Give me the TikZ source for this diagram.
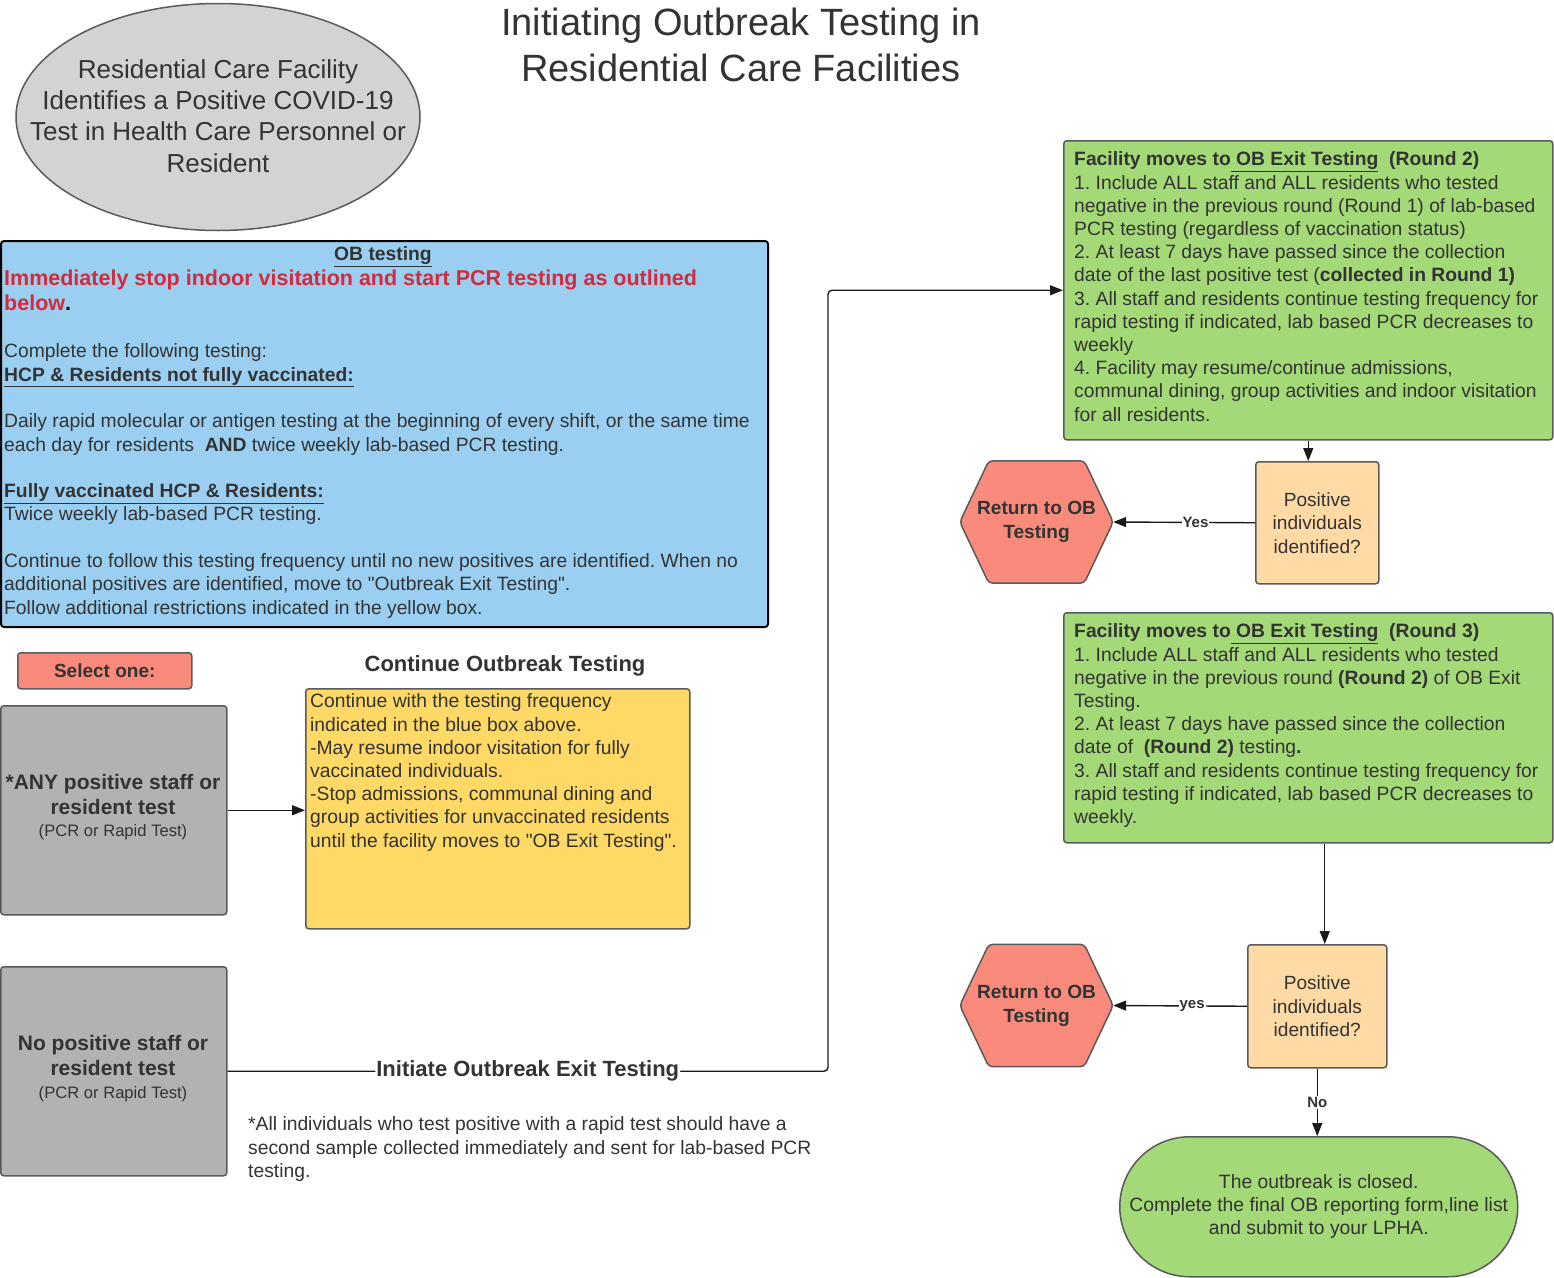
\documentclass[tikz,border=0pt]{standalone}
\usepackage{fontspec}
\setmainfont{Liberation Sans}[Ligatures=TeXOff]
\usetikzlibrary{arrows.meta,shapes.geometric,backgrounds,calc}
\definecolor{txt}{HTML}{333333}
\definecolor{redtxt}{HTML}{D42A3C}
\definecolor{bluebox}{HTML}{9BCFF1}
\definecolor{greenbox}{HTML}{A3D977}
\definecolor{salmon}{HTML}{FA8B7C}
\definecolor{peach}{HTML}{FFDAA5}
\definecolor{yellowbox}{HTML}{FFD966}
\definecolor{graybox}{HTML}{B2B2B2}
\definecolor{ellgray}{HTML}{D3D3D3}
\definecolor{edge}{HTML}{5A5A5A}
\definecolor{wire}{HTML}{1A1A1A}
\newcommand\fsz[2]{\fontsize{#1}{#2}\selectfont}
\frenchspacing
\begin{document}
\begin{tikzpicture}[x=1pt,y=-1pt,
  box/.style={draw=edge, line width=1.5pt, rounded corners=3pt, anchor=north west, inner sep=0pt, text=txt},
  para/.style={inner sep=0pt, text=txt, align=left, anchor=north west, font=\fsz{19.3}{23.2}},
  ctr/.style={inner sep=0pt, text=txt, align=center},
  conn/.style={draw=wire, line width=1.4pt, -{Triangle[length=13pt,width=10pt]}},
  lbl/.style={fill=white, inner sep=1pt, text=txt, font=\bfseries\fsz{15}{15}},
  hexa/.style={draw=edge, line width=1.5pt, fill=salmon, rounded corners=4pt},
]
\useasboundingbox (0,0) rectangle (1554,1277);
\begin{pgfonlayer}{background}
\fill[white] (0,0) rectangle (1554,1277);
\end{pgfonlayer}

% title
\node[ctr, anchor=north, font=\fsz{38}{46}] (title) at (741,3) {\strut Initiating Outbreak Testing in\\Residential Care Facilities};

% start ellipse
\node[ellipse, draw=edge, fill=ellgray, line width=1.5pt, minimum width=404, minimum height=227, inner sep=0pt] (start) at (218,117) {};
\node[ctr, anchor=north, font=\fsz{26}{31.3}] (starttxt) at (218,56) {\strut Residential Care Facility\\Identifies a Positive COVID-19\\Test in Health Care Personnel or\\Resident};

% blue box
\node[box, draw=black, line width=2pt, fill=bluebox, minimum width=767, minimum height=386] (ob) at (0,240) {};
\node[ctr, anchor=base, font=\bfseries\fsz{19.3}{23}] (obtitle) at (383,260.6) {\underline{OB testing}};
\node[para, text=redtxt, font=\bfseries\fsz{21.5}{25}] (obred) at (4,267.8) {\strut Immediately stop indoor visitation and start PCR testing as outlined\\below\textcolor{black}{.}};
\node[para, font=\fsz{19.3}{23.3}] (obbody) at (4,341.3) {\strut Complete the following testing:\\
\textbf{\underline{HCP \& Residents not fully vaccinated:}}\\[23.3pt]
Daily rapid molecular or antigen testing at the beginning of every shift, or the same time\\
each day for residents\ \ \textbf{AND} twice weekly lab-based PCR testing.\\[23.3pt]
\textbf{\underline{Fully vaccinated HCP \& Residents:}}\\
Twice weekly lab-based PCR testing.\\[23.3pt]
Continue to follow this testing frequency until no new positives are identified. When no\\
additional positives are identified, move to "Outbreak Exit Testing".\\
Follow additional restrictions indicated in the yellow box.};

% select one
\node[box, fill=salmon, minimum width=174, minimum height=36, font=\bfseries\fsz{19}{23}] (sel) at (17,652) {Select one:};

% gray box 1
\node[box, fill=graybox, minimum width=226, minimum height=209] (anypos) at (0,705) {};
\node[ctr, anchor=north, font=\bfseries\fsz{21}{25}] (anypostxt) at (113,771.7) {\strut *ANY positive staff or\\resident test};
\node[ctr, anchor=base, font=\fsz{16.6}{20}] (anypossub) at (113,836.8) {(PCR or Rapid Test)};

% continue outbreak testing
\node[ctr, anchor=base, font=\bfseries\fsz{22}{26}] (conthead) at (505,671) {Continue Outbreak Testing};
\node[box, fill=yellowbox, minimum width=384, minimum height=240] (yellow) at (305,688) {};
\node[para] (yellowtxt) at (310,691.4) {\strut Continue with the testing frequency\\
indicated in the blue box above.\\
-May resume indoor visitation for fully\\
vaccinated individuals.\\
-Stop admissions, communal dining and\\
group activities for unvaccinated residents\\
until the facility moves to "OB Exit Testing".};

% gray box 2
\node[box, fill=graybox, minimum width=226, minimum height=209] (nopos) at (0,966) {};
\node[ctr, anchor=north, font=\bfseries\fsz{21}{25}] (nopostxt) at (113,1032.7) {\strut No positive staff or\\resident test};
\node[ctr, anchor=base, font=\fsz{16.6}{20}] (nopossub) at (113,1098.8) {(PCR or Rapid Test)};

% footnote
\node[para, font=\fsz{19.3}{23.5}] (foot) at (248,1114.2) {\strut *All individuals who test positive with a rapid test should have a\\
second sample collected immediately and sent for lab-based PCR\\
testing.};

% green box round 2
\node[box, fill=greenbox, minimum width=489, minimum height=299] (g1) at (1063,140) {};
\node[para] (g1txt) at (1074,149.4) {\strut\textbf{Facility moves to\underline{\ OB Exit Testing}\ \ (Round 2)}\\
1. Include ALL staff and ALL residents who tested\\
negative in the previous round (Round 1) of lab-based\\
PCR testing (regardless of vaccination status)\\
2. At least 7 days have passed since the collection\\
date of the last positive test (\textbf{collected in Round 1)}\\
3. All staff and residents continue testing frequency for\\
rapid testing if indicated, lab based PCR decreases to\\
weekly\\
4. Facility may resume/continue admissions,\\
communal dining, group activities and indoor visitation\\
for all residents.};

% decision 1
\node[box, fill=peach, minimum width=123, minimum height=122, align=center, font=\fsz{19.1}{23.5}] (pos1) at (1255,461) {Positive\\individuals\\identified?};
\node[minimum width=153, minimum height=122, inner sep=0pt, align=center, text=txt, font=\bfseries\fsz{19.1}{24}] (h1) at (1036.5,522) {Return to OB\\Testing};

% green box round 3
\node[box, fill=greenbox, minimum width=489, minimum height=230] (g2) at (1063,612) {};
\node[para] (g2txt) at (1074,621.4) {\strut\textbf{Facility moves to\underline{\ OB Exit Testing}\ \ (Round 3)}\\
1. Include ALL staff and ALL residents who tested\\
negative in the previous round \textbf{(Round 2)} of OB Exit\\
Testing.\\
2. At least 7 days have passed since the collection\\
date of\ \ \textbf{(Round 2)} testing\textbf{.}\\
3. All staff and residents continue testing frequency for\\
rapid testing if indicated, lab based PCR decreases to\\
weekly.};

% decision 2
\node[box, fill=peach, minimum width=139, minimum height=123, align=center, font=\fsz{19.1}{23.5}] (pos2) at (1247,944) {Positive\\individuals\\identified?};
\node[minimum width=153, minimum height=122, inner sep=0pt, align=center, text=txt, font=\bfseries\fsz{19.1}{24}] (h2) at (1036.5,1005.5) {Return to OB\\Testing};

% terminal
\node[box, rounded corners=70pt, fill=greenbox, minimum width=398, minimum height=140, align=center, font=\fsz{19.3}{23.2}] (closed) at (1119,1136) {The outbreak is closed.\\Complete the final OB reporting form,line list\\and submit to your LPHA.};

% hexagon outlines (behind their labels)
\begin{pgfonlayer}{background}
\foreach \h in {h1,h2}{
  \draw[hexa] (\h.west) -- ($(\h.north west)+(29,0)$) -- ($(\h.north east)+(-29,0)$) -- (\h.east)
    -- ($(\h.south east)+(-29,0)$) -- ($(\h.south west)+(29,0)$) -- cycle;
}
\end{pgfonlayer}

% connectors
\coordinate (turn) at (828,0);
\draw[conn] (anypos.east) -- (anypos.east -| yellow.west);
\draw[conn, rounded corners=4pt] (nopos.east) -- node[lbl, font=\bfseries\fsz{22}{22}] {Initiate Outbreak Exit Testing} (nopos.east -| turn) -- (turn |- g1.west) -- (g1.west);
\draw[conn] (g1.south) -- (g1.south |- pos1.north);
\draw[conn] (pos1.west) -- node[lbl, pos=0.42] {Yes} (h1.east);
\draw[conn] ([xshift=16.5pt]g2.south) -- ([xshift=7.5pt]pos2.north);
\draw[conn] (pos2.west) -- node[lbl, pos=0.41] {yes} (h2.east);
\draw[conn] (pos2.south) -- node[lbl] {No} (pos2.south |- closed.north);
\end{tikzpicture}
\end{document}
